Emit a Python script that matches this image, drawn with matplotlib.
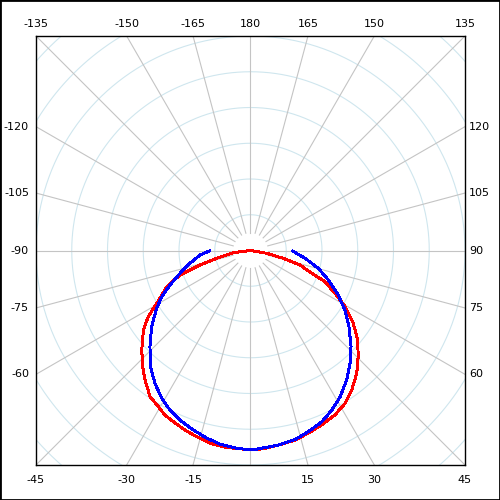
import numpy as np
import matplotlib
matplotlib.use('Agg')
import matplotlib.pyplot as plt
from matplotlib.patches import Rectangle

# readings: angle in degrees (0 = down, 90 = right), radius in ring units
red_theta = [-90, -82.7, -77.0, -74.0, -70.8, -66.6, -60.6, -57.1, -53.4, -47.6,
             -42.9, -39.2, -34.5, -30.6, -27.5, -24.3, -20.0, -16.1, -11.9, -6.9,
             -2.1, 1.3, 4.2, 8.1, 13.2, 17.5, 22.2, 27.2, 31.7, 36.0,
             40.9, 45.4, 50.1, 54.7, 59.3, 63.1, 67.3, 69.6, 73.7, 76.6,
             80.2, 90]
red_r = [0, 0.49, 0.97, 1.47, 2.09, 2.55, 3.01, 3.41, 3.73, 4.12,
         4.43, 4.67, 4.96, 5.07, 5.19, 5.25, 5.35, 5.42, 5.51, 5.55,
         5.56, 5.58, 5.55, 5.50, 5.45, 5.36, 5.27, 5.17, 5.03, 4.82,
         4.54, 4.23, 3.91, 3.52, 3.08, 2.65, 2.26, 1.83, 1.44, 0.94,
         0.46, 0]

blue_theta = [-89.3, -84.9, -78.1, -72.1, -66.8, -62.5, -57.8, -52.4, -46.3, -40.7,
              -35.7, -31.0, -26.8, -22.6, -17.7, -13.1, -9.0, -4.0, 0.8, 3.2,
              8.1, 13.3, 17.7, 22.6, 27.0, 31.5, 36.6, 41.4, 46.3, 52.3,
              57.8, 63.1, 69.2, 75.3, 81.9, 89.3]
blue_r = [1.15, 1.42, 1.73, 2.07, 2.45, 2.80, 3.12, 3.49, 3.89, 4.29,
          4.58, 4.82, 5.00, 5.14, 5.27, 5.39, 5.48, 5.55, 5.58, 5.54,
          5.50, 5.43, 5.32, 5.19, 5.01, 4.80, 4.51, 4.21, 3.89, 3.48,
          3.12, 2.75, 2.33, 1.96, 1.54, 1.18]

top_ticks = [-135, -150, -165, 180, 165, 150, 135]
left_ticks = [-120, -105, -90, -75, -60]
right_ticks = [120, 105, 90, 75, 60]
bottom_ticks = [-45, -30, -15, 15, 30, 45]

spoke_angles = np.arange(-180, 180, 15)
ring_radii = np.arange(1, 9)
rmax = 6


def to_xy(theta, r):
    t = np.radians(np.asarray(theta, dtype=float))
    r = np.asarray(r, dtype=float)
    return r * np.sin(t), -r * np.cos(t)


def edge_point(a):
    x, y = to_xy(a, 1.0)
    k = rmax / max(abs(x), abs(y))
    return x * k, y * k


fig = plt.figure(figsize=(5, 5), dpi=100)
fig.add_artist(Rectangle((0, 0), 1, 1, transform=fig.transFigure,
                         fill=False, edgecolor='black', lw=2))
ax = fig.add_axes([0.072, 0.07, 0.858, 0.858])

# rings
circ = np.linspace(-180, 180, 721)
for rr in ring_radii:
    x, y = to_xy(circ, np.full_like(circ, rr))
    ax.plot(x, y, color='#cfe6ee', lw=0.8, zorder=1)

# spokes
for a in spoke_angles:
    x, y = to_xy([a, a], [0.5, 10])
    ax.plot(x, y, color='#c4c4c4', lw=0.8, zorder=2)

x, y = to_xy(red_theta, red_r)
ax.plot(x, y, color='#ff0000', lw=1.4, zorder=3, antialiased=False)
x, y = to_xy(blue_theta, blue_r)
ax.plot(x, y, color='#0000ff', lw=1.4, zorder=4, antialiased=False)

ax.set_xlim(-rmax, rmax)
ax.set_ylim(-rmax, rmax)
ax.set_xticks([])
ax.set_yticks([])
for s in ax.spines.values():
    s.set_linewidth(1.0)
    s.set_color('black')

fs = 8
for a in top_ticks:
    px, py = edge_point(a)
    ax.annotate(str(a), (px, rmax), xytext=(0, 5), textcoords='offset points',
                ha='center', va='bottom', fontsize=fs, annotation_clip=False)
for a in bottom_ticks:
    px, py = edge_point(a)
    ax.annotate(str(a), (px, -rmax), xytext=(0, -7), textcoords='offset points',
                ha='center', va='top', fontsize=fs, annotation_clip=False)
for a in left_ticks:
    px, py = edge_point(a)
    ax.annotate(str(a), (-rmax, py), xytext=(-5, 0), textcoords='offset points',
                ha='right', va='center', fontsize=fs, annotation_clip=False)
for a in right_ticks:
    px, py = edge_point(a)
    ax.annotate(str(a), (rmax, py), xytext=(3, 0), textcoords='offset points',
                ha='left', va='center', fontsize=fs, annotation_clip=False)

fig.savefig('out.png', dpi=100)
